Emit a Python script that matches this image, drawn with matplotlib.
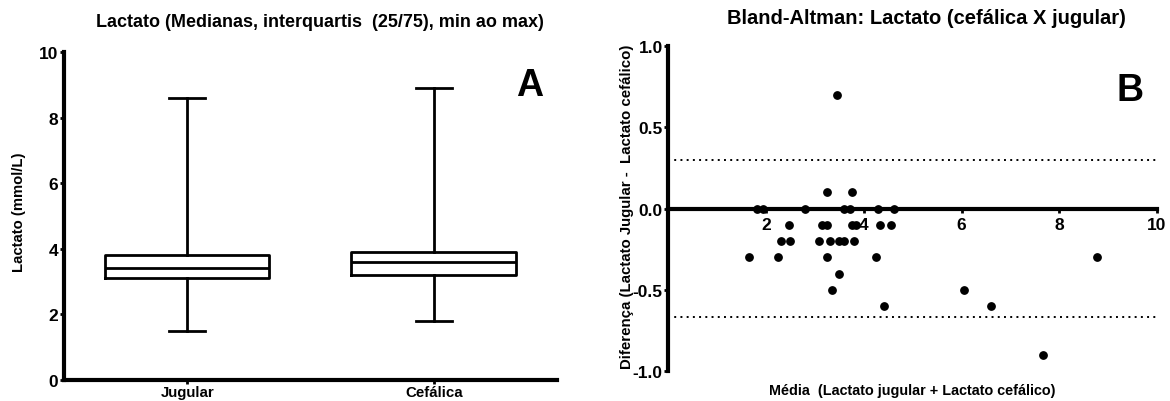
import matplotlib
matplotlib.use('Agg')
import matplotlib.pyplot as plt

plt.rcParams['font.family'] = ['Liberation Sans', 'DejaVu Sans']
plt.rcParams['font.weight'] = 'bold'

# Painel A: lactato por local de coleta (min, Q1, mediana, Q3, max)
grupos = ['Jugular', 'Cefálica']
minimos = [1.5, 1.8]
q1 = [3.1, 3.2]
medianas = [3.4, 3.6]
q3 = [3.8, 3.9]
maximos = [8.6, 8.9]

# Painel B: Bland-Altman (média, diferença)
media = [3.45,
         3.25, 3.76,
         1.81, 1.93, 2.79, 3.60, 3.71, 4.30, 4.61,
         2.46, 3.14, 3.25, 3.75, 3.85, 4.34, 4.56,
         2.30, 2.49, 3.09, 3.31, 3.50, 3.60, 3.80,
         1.65, 2.25, 3.25, 4.26, 8.78,
         3.50,
         3.35, 6.06,
         4.41, 6.61,
         7.66]
diferenca = [0.7,
             0.1, 0.1,
             0.0, 0.0, 0.0, 0.0, 0.0, 0.0, 0.0,
             -0.1, -0.1, -0.1, -0.1, -0.1, -0.1, -0.1,
             -0.2, -0.2, -0.2, -0.2, -0.2, -0.2, -0.2,
             -0.3, -0.3, -0.3, -0.3, -0.3,
             -0.4,
             -0.5, -0.5,
             -0.6, -0.6,
             -0.9]
limite_sup = 0.30
limite_inf = -0.665

fig = plt.figure(figsize=(11.7, 4.02), dpi=100)
ax_a = fig.add_axes([0.0547, 0.053, 0.4213, 0.814])
ax_b = fig.add_axes([0.5712, 0.0739, 0.4177, 0.8099])

spine_lw = 3.0
tick_kw = dict(direction='out', length=3, width=2.0, colors='black', pad=1)

# --- A ---
stats = []
for i, nome in enumerate(grupos):
    stats.append({'label': nome, 'whislo': minimos[i], 'q1': q1[i], 'med': medianas[i],
                  'q3': q3[i], 'whishi': maximos[i]})
ax_a.bxp(stats, positions=[0, 1], widths=0.667, showfliers=False, capwidths=0.145,
         boxprops=dict(color='black', linewidth=2.0),
         medianprops=dict(color='black', linewidth=2.0),
         whiskerprops=dict(color='black', linewidth=2.0),
         capprops=dict(color='black', linewidth=2.0))
ax_a.set_xlim(-0.5, 1.5)
ax_a.set_ylim(0, 10)
ax_a.set_yticks([0, 2, 4, 6, 8, 10])
ax_a.set_xticks([0, 1])
ax_a.set_xticklabels(grupos, fontsize=10.8, fontweight='bold')
ax_a.tick_params(axis='y', labelsize=12.5, **tick_kw)
ax_a.tick_params(axis='x', **tick_kw)
for s in ['top', 'right']:
    ax_a.spines[s].set_visible(False)
for s in ['left', 'bottom']:
    ax_a.spines[s].set_linewidth(spine_lw)
ax_a.set_ylabel('Lactato (mmol/L)', fontsize=10.7, fontweight='bold')
ax_a.yaxis.set_label_coords(-0.077, 0.515)
ax_a.text(0.945, 0.90, 'A', transform=ax_a.transAxes, fontsize=27, fontweight='bold',
          ha='center', va='center')
fig.text(0.2735, 0.943, 'Lactato (Medianas, interquartis  (25/75), min ao max)',
         fontsize=13, fontweight='bold', ha='center', va='center')

# --- B ---
ax_b.scatter(media, diferenca, s=28, color='black', zorder=3, clip_on=False)
ax_b.axhline(limite_sup, color='black', linestyle=(0, (1, 2.2)), linewidth=1.4)
ax_b.axhline(limite_inf, color='black', linestyle=(0, (1, 2.2)), linewidth=1.4)
ax_b.set_xlim(0, 10)
ax_b.set_ylim(-1, 1)
ax_b.set_xticks([2, 4, 6, 8, 10])
ax_b.set_yticks([-1.0, -0.5, 0.0, 0.5, 1.0])
ax_b.set_yticklabels(['-1.0', '-0.5', '0.0', '0.5', '1.0'])
ax_b.spines['bottom'].set_position(('data', 0))
for s in ['top', 'right']:
    ax_b.spines[s].set_visible(False)
for s in ['left', 'bottom']:
    ax_b.spines[s].set_linewidth(spine_lw)
ax_b.tick_params(axis='both', labelsize=12.5, **tick_kw)
ax_b.tick_params(axis='x', pad=3)
ax_b.set_ylabel('Diferença (Lactato Jugular -  Lactato cefálico)', fontsize=10.8,
                fontweight='bold')
ax_b.yaxis.set_label_coords(-0.070, 0.509)
ax_b.text(0.5, -0.058, 'Média  (Lactato jugular + Lactato cefálico)', transform=ax_b.transAxes,
          fontsize=10.4, fontweight='bold', ha='center', va='center')
ax_b.text(0.944, 0.864, 'B', transform=ax_b.transAxes, fontsize=27, fontweight='bold',
          ha='center', va='center')
fig.text(0.7915, 0.955, 'Bland-Altman: Lactato (cefálica X jugular)',
         fontsize=14.5, fontweight='bold', ha='center', va='center')

fig.savefig('out.png', dpi=100, facecolor='white')
